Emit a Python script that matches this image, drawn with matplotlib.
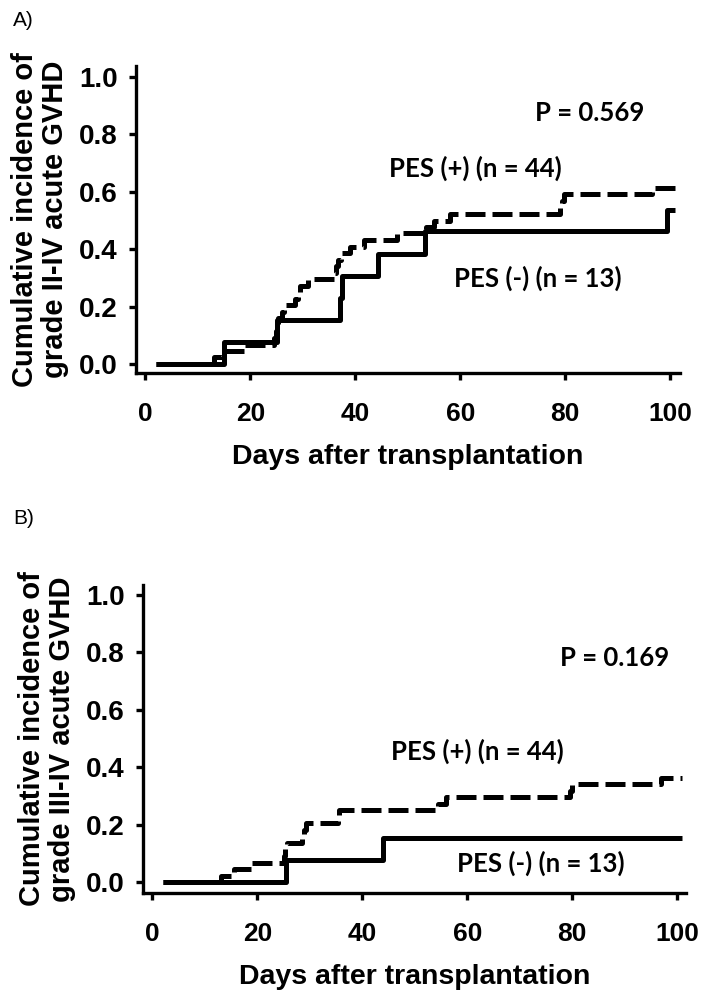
import matplotlib
matplotlib.use('Agg')
import matplotlib.pyplot as plt

# --- Data (days, cumulative incidence) ---
# Panel A: grade II-IV acute GVHD
a_neg_days = [2, 15, 25, 37, 37.5, 44.3, 53.3, 99.4, 101]
a_neg_inc  = [0, 0.077, 0.154, 0.231, 0.308, 0.385, 0.462, 0.538, 0.538]

a_pos_days = [2, 13, 14.6, 19, 24.5, 24.8, 25, 25.3, 26, 26.5, 28.5, 29, 29.5,
              31, 36, 36.3, 36.7, 37.3, 39, 41.6, 48, 53.5, 55, 58, 79, 79.4,
              79.7, 96.5, 101]
a_pos_inc  = [0, 0.023, 0.045, 0.068, 0.091, 0.114, 0.136, 0.159, 0.182, 0.205,
              0.227, 0.25, 0.273, 0.295, 0.318, 0.341, 0.364, 0.386, 0.409,
              0.432, 0.455, 0.477, 0.5, 0.523, 0.545, 0.568, 0.591, 0.614, 0.614]

# Panel B: grade III-IV acute GVHD
b_neg_days = [2, 25.4, 44, 101]
b_neg_inc  = [0, 0.077, 0.154, 0.154]

b_pos_days = [2, 13, 15.5, 19, 25, 25.3, 25.7, 28.5, 28.8, 29.2, 35.3, 35.6,
              54.5, 56, 79.5, 80, 97, 101]
b_pos_inc  = [0, 0.023, 0.045, 0.068, 0.091, 0.114, 0.136, 0.159, 0.182, 0.205,
              0.227, 0.25, 0.273, 0.295, 0.318, 0.341, 0.364, 0.364]

xticks = [0, 20, 40, 60, 80, 100]
yticks = [0.0, 0.2, 0.4, 0.6, 0.8, 1.0]

AX_FONT = 'Liberation Sans'
NOTE_FONT = 'Lato'

fig = plt.figure(figsize=(7.07, 9.96), dpi=100)
fig.patch.set_facecolor('white')

panels = [
    dict(rect=[0.1924, 0.6255, 0.7694, 0.3082], xlim=(-1.8, 101.9), ylim=(-0.031, 1.038),
         neg=(a_neg_days, a_neg_inc), pos=(a_pos_days, a_pos_inc),
         ylabel='Cumulative incidence of\ngrade II-IV acute GVHD',
         p_text='P = 0.569', p_xy=(84.7, 0.875),
         pos_xy=(62.8, 0.683), neg_xy=(74.7, 0.30),
         tag='A)', tag_y=0.979),
    dict(rect=[0.2023, 0.1034, 0.768, 0.3092], xlim=(-1.8, 101.7), ylim=(-0.038, 1.035),
         neg=(b_neg_days, b_neg_inc), pos=(b_pos_days, b_pos_inc),
         ylabel='Cumulative incidence of\ngrade III-IV acute GVHD',
         p_text='P = 0.169', p_xy=(88.1, 0.78),
         pos_xy=(62.0, 0.456), neg_xy=(74.1, 0.066),
         tag='B)', tag_y=0.479),
]

for p in panels:
    ax = fig.add_axes(p['rect'])
    ax.step(*p['neg'], where='post', color='black', linewidth=3.6,
            solid_capstyle='butt')
    ax.step(*p['pos'], where='post', color='black', linewidth=3.6,
            linestyle=(0, (4, 1.4)), dash_capstyle='butt')

    ax.set_xlim(*p['xlim'])
    ax.set_ylim(*p['ylim'])
    ax.set_xticks(xticks)
    ax.set_yticks(yticks)
    ax.set_xticklabels([str(v) for v in xticks], fontsize=19, fontweight='bold',
                       fontfamily=AX_FONT)
    ax.set_yticklabels([f'{v:.1f}' for v in yticks], fontsize=20, fontweight='bold',
                       fontfamily=AX_FONT)
    ax.tick_params(direction='out', length=5, width=2.4, pad=8)
    ax.tick_params(axis='x', pad=16)

    for side in ('top', 'right'):
        ax.spines[side].set_visible(False)
    for side in ('left', 'bottom'):
        ax.spines[side].set_linewidth(2.4)

    ax.set_xlabel('Days after transplantation', fontsize=20.5, fontweight='bold',
                  fontfamily=AX_FONT, labelpad=13)
    ax.set_ylabel(p['ylabel'], fontsize=21, fontweight='bold',
                  fontfamily=AX_FONT, labelpad=7, linespacing=1.12)

    note = dict(fontsize=18.5, fontweight='bold', fontfamily=NOTE_FONT,
                ha='center', va='center')
    ax.text(*p['p_xy'], p['p_text'], **note)
    ax.text(*p['pos_xy'], 'PES (+) (n = 44)', **note)
    ax.text(*p['neg_xy'], 'PES (-) (n = 13)', **note)

    fig.text(0.019, p['tag_y'], p['tag'], fontsize=15, fontfamily=AX_FONT,
             ha='left', va='center')

plt.savefig('out.png', dpi=100, facecolor='white')
plt.close()
